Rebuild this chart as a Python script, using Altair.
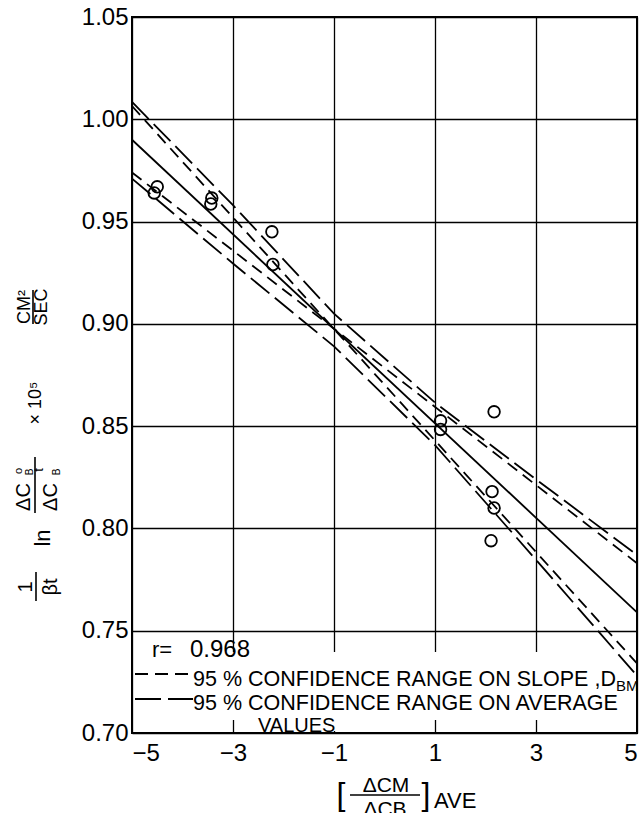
import altair as alt
import pandas as pd

FONT = "Liberation Sans, Arial, sans-serif"

# Measured points
circle_x = [-4.50, -4.56, -3.42, -3.44, -2.23, -2.21, 1.11, 1.11, 2.17, 2.13, 2.17, 2.11]
circle_y = [0.967, 0.964, 0.9615, 0.9586, 0.945, 0.929, 0.8526, 0.8484, 0.857, 0.818, 0.810, 0.794]

# Regression line and slope-range lines, end points at x = -5 and x = 5
x_ends = [-5, 5]
fit_y = [0.990, 0.759]
slope_hi_y = [1.0065, 0.734]
slope_lo_y = [0.974, 0.783]

# Range on average values, read at several x positions
band_x = [-5, -3, -1, 1, 3, 5]
band_hi_y = [1.0085, 0.958, 0.905, 0.8615, 0.824, 0.787]
band_lo_y = [0.971, 0.9295, 0.889, 0.8407, 0.7847, 0.728]

x_ticks = [-5, -3, -1, 1, 3, 5]
y_ticks = [0.70, 0.75, 0.80, 0.85, 0.90, 0.95, 1.00, 1.05]

# plot-area placement on the page
L, T, W, H = 132, 17, 505, 716

pts = pd.DataFrame({"x": circle_x, "y": circle_y})
fit_df = pd.DataFrame({"x": x_ends, "y": fit_y})
slope_df = pd.DataFrame({"x": x_ends * 2, "y": slope_hi_y + slope_lo_y,
                         "line": ["hi"] * 2 + ["lo"] * 2})
band_df = pd.DataFrame({"x": band_x * 2, "y": band_hi_y + band_lo_y,
                        "line": ["hi"] * len(band_x) + ["lo"] * len(band_x)})
one = pd.DataFrame({"k": [0]})

xs = alt.Scale(domain=[-5, 5], nice=False, zero=False)
ys = alt.Scale(domain=[0.70, 1.05], nice=False, zero=False)

x_axis = alt.Axis(values=x_ticks, grid=True, gridColor="black", gridWidth=1.3,
                  gridOpacity=1, domain=False, ticks=False, labelFontSize=24,
                  labelPadding=8, labelFont=FONT, labelColor="black", title=None)
y_axis = alt.Axis(values=y_ticks, format=".2f", grid=True, gridColor="black",
                  gridWidth=1.3, gridOpacity=1, domain=False, ticks=False,
                  labelFontSize=24, labelPadding=4, labelFont=FONT,
                  labelColor="black", title=None)

X = alt.X("x:Q", scale=xs, axis=x_axis)
Y = alt.Y("y:Q", scale=ys, axis=y_axis)


def txt(s, px, py, size, angle=0, align="left", baseline="alphabetic"):
    return alt.Chart(one).mark_text(
        text=s, fontSize=size, angle=angle, align=align, baseline=baseline,
        font=FONT, color="black"
    ).encode(x=alt.value(px - L), y=alt.value(py - T))


def bar(x1, y1, x2, y2, width=1.6, dash=None):
    kw = dict(color="black", strokeWidth=width)
    if dash:
        kw["strokeDash"] = dash
    return alt.Chart(one).mark_rule(**kw).encode(
        x=alt.value(x1 - L), x2=alt.value(x2 - L),
        y=alt.value(y1 - T), y2=alt.value(y2 - T))


def white_box(x1, y1, x2, y2):
    return alt.Chart(one).mark_rect(color="white").encode(
        x=alt.value(x1 - L), x2=alt.value(x2 - L),
        y=alt.value(y1 - T), y2=alt.value(y2 - T))


# white area behind the legend text
boxes = [white_box(134, 652, 635, 720), white_box(255, 718, 345, 731)]

fit = alt.Chart(fit_df).mark_line(color="black", strokeWidth=1.8).encode(x=X, y=Y)
slope = alt.Chart(slope_df).mark_line(color="black", strokeWidth=1.8,
                                      strokeDash=[12, 7]).encode(x=X, y=Y, detail="line:N")
band = alt.Chart(band_df).mark_line(color="black", strokeWidth=1.8,
                                    strokeDash=[24, 7]).encode(x=X, y=Y, detail="line:N")
points = alt.Chart(pts).mark_point(shape="circle", filled=False, color="black",
                                   size=135, strokeWidth=1.8, opacity=1).encode(x=X, y=Y)

legend = [
    txt("r=", 152, 657, 22),
    txt("0.968", 190, 657, 24),
    bar(135, 674, 193, 674, 1.8, [13, 7]),
    txt("95 % CONFIDENCE RANGE ON SLOPE ,D", 193, 686, 21.5),
    txt("BM", 616, 691, 15),
    bar(135, 699, 193, 699, 1.8, [26, 7]),
    txt("95 % CONFIDENCE RANGE ON AVERAGE", 193, 710, 21.5),
    txt("VALUES", 258, 732, 20),
]

# y-axis title, written upward
R = 270
ytitle = [
    txt("1", 26, 587, 20, R, "center", "middle"),
    bar(36, 572, 36, 601),
    txt("βt", 51, 587, 20, R, "center", "middle"),
    txt("ln", 43, 538, 22, R, "center", "middle"),
    txt("ΔC", 24, 497, 20, R, "center", "middle"),
    txt("o", 19, 471, 11, R, "center", "middle"),
    txt("B", 30, 472, 10, R, "center", "middle"),
    bar(35, 457, 35, 513),
    txt("ΔC", 51, 497, 20, R, "center", "middle"),
    txt("t", 39, 470, 13, R, "center", "middle"),
    txt("B", 57, 472, 10, R, "center", "middle"),
    txt("× 10⁵", 36, 403, 18, R, "center", "middle"),
    txt("CM²", 25, 307, 18, R, "center", "middle"),
    bar(33, 290, 33, 324),
    txt("SEC", 42, 307, 18, R, "center", "middle"),
]

# x-axis title
xtitle = [
    txt("[", 341, 795, 32, 0, "center", "middle"),
    txt("ΔCM", 386, 792, 21, 0, "center", "alphabetic"),
    bar(350, 795, 420, 795),
    txt("ΔCB", 385, 799, 21, 0, "center", "top"),
    txt("]", 426, 795, 32, 0, "center", "middle"),
    txt("AVE", 434, 808, 22),
]

chart = alt.layer(
    *boxes, fit, slope, band, points, *legend, *ytitle, *xtitle
).properties(
    width=W, height=H,
    padding={"left": L, "top": T, "right": 642 - L - W, "bottom": 813 - T - H},
    autosize=alt.AutoSizeParams(type="none"),
    background="white",
).configure_view(stroke="black", strokeWidth=2)

chart.save("out.html", embed_options={"renderer": "svg", "actions": False})
